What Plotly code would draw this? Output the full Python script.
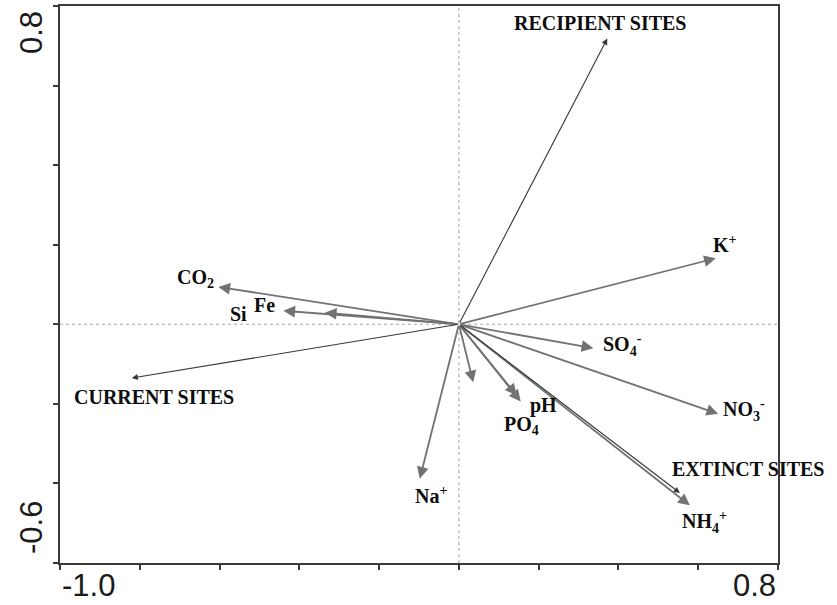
import plotly.graph_objects as go

# Environmental variables (biplot arrow tips on ordination axes 1 and 2)
var_labels = ["CO<sub>2</sub>", "Fe", "Si", "K<sup>+</sup>", "SO<sub>4</sub><sup>-</sup>",
              "NO<sub>3</sub><sup>-</sup>", "NH<sub>4</sub><sup>+</sup>", "pH",
              "PO<sub>4</sub>", "Na<sup>+</sup>", ""]
var_x = [-0.603, -0.440, -0.336, 0.644, 0.337, 0.650, 0.579, 0.155, 0.145, -0.098, 0.036]
var_y = [0.094, 0.034, 0.029, 0.166, -0.060, -0.225, -0.455, -0.194, -0.179, -0.388, -0.146]

# Site groups (supplementary arrows)
site_labels = ["RECIPIENT SITES", "CURRENT SITES", "EXTINCT SITES"]
site_x = [0.372, -0.820, 0.554]
site_y = [0.718, -0.135, -0.424]

# Axis end labels
x_range = [-1.0, 0.8]
y_range = [-0.6, 0.8]

# label offsets from arrow tip, in pixels (dx right, dy down)
var_offsets = [(-23, -8), (-19, -6), (-86, 1), (9, -14), (29, -3),
               (26, -4), (15, 17), (23, 4), (5, 30), (11, 16), (0, 0)]
site_offsets = [(-7, -16), (22, 19), (68, -24)]

LABEL_FONT = dict(family="Liberation Serif, Times New Roman, serif", size=20, color="#0d0d0d")
TICK_FONT = dict(family="Liberation Sans, Arial, sans-serif", size=31, color="#1a1a1a")

fig = go.Figure()
# invisible trace so the axes are drawn
fig.add_trace(go.Scatter(x=[0], y=[0], mode="markers", marker=dict(size=1, opacity=0),
                         hoverinfo="skip", showlegend=False))

annotations = []

# variable arrows
for lab, x, y in zip(var_labels, var_x, var_y):
    annotations.append(dict(
        x=x, y=y, xref="x", yref="y", ax=0, ay=0, axref="x", ayref="y",
        text="", showarrow=True, arrowhead=2, arrowsize=1.3, arrowwidth=1.8,
        arrowcolor="#727272", standoff=0, startstandoff=0))

# site arrows
for lab, x, y in zip(site_labels, site_x, site_y):
    annotations.append(dict(
        x=x, y=y, xref="x", yref="y", ax=0, ay=0, axref="x", ayref="y",
        text="", showarrow=True, arrowhead=2, arrowsize=1.1, arrowwidth=1.1,
        arrowcolor="#383838", standoff=0, startstandoff=0))

# variable labels
for lab, x, y, (dx, dy) in zip(var_labels, var_x, var_y, var_offsets):
    if not lab:
        continue
    annotations.append(dict(
        x=x, y=y, xref="x", yref="y", text="<b>%s</b>" % lab, showarrow=False,
        xshift=dx, yshift=-dy, xanchor="center", yanchor="middle", font=LABEL_FONT))

# site labels
for lab, x, y, (dx, dy) in zip(site_labels, site_x, site_y, site_offsets):
    annotations.append(dict(
        x=x, y=y, xref="x", yref="y", text="<b>%s</b>" % lab, showarrow=False,
        xshift=dx, yshift=-dy, xanchor="center", yanchor="middle", font=LABEL_FONT))

# axis end labels
annotations += [
    dict(x=x_range[0], y=0, xref="x", yref="paper", text="%.1f" % x_range[0],
         showarrow=False, xanchor="left", yanchor="top", yshift=-3, font=TICK_FONT),
    dict(x=x_range[1], y=0, xref="x", yref="paper", text="%.1f" % x_range[1],
         showarrow=False, xanchor="right", yanchor="top", yshift=-3, font=TICK_FONT),
    dict(x=0, y=y_range[1], xref="paper", yref="y", text="%.1f" % y_range[1],
         showarrow=False, textangle=-90, xanchor="center", yanchor="middle",
         xshift=-29, yshift=-27, font=TICK_FONT),
    dict(x=0, y=y_range[0], xref="paper", yref="y", text="%.1f" % y_range[0],
         showarrow=False, textangle=-90, xanchor="center", yanchor="middle",
         xshift=-29, yshift=35, font=TICK_FONT),
]

# dotted zero lines
shapes = [
    dict(type="line", xref="x", yref="y", x0=0, x1=0, y0=y_range[0], y1=y_range[1],
         line=dict(color="#a8a8a8", width=1.1, dash="dot"), layer="below"),
    dict(type="line", xref="x", yref="y", x0=x_range[0], x1=x_range[1], y0=0, y1=0,
         line=dict(color="#a8a8a8", width=1.1, dash="dot"), layer="below"),
]

axis_common = dict(showgrid=False, zeroline=False, showline=True, mirror=True,
                   linecolor="#3a3a3a", linewidth=2, ticks="outside", ticklen=5,
                   tickwidth=1.5, tickcolor="#3a3a3a", showticklabels=False, dtick=0.2)

fig.update_layout(
    width=837, height=605, autosize=False,
    margin=dict(l=60, r=59, t=4, b=42),
    paper_bgcolor="white", plot_bgcolor="white",
    xaxis=dict(range=x_range, tick0=-1.0, **axis_common),
    yaxis=dict(range=y_range, tick0=-0.6, **axis_common),
    annotations=annotations, shapes=shapes, showlegend=False,
)

fig.write_html("out.html")
